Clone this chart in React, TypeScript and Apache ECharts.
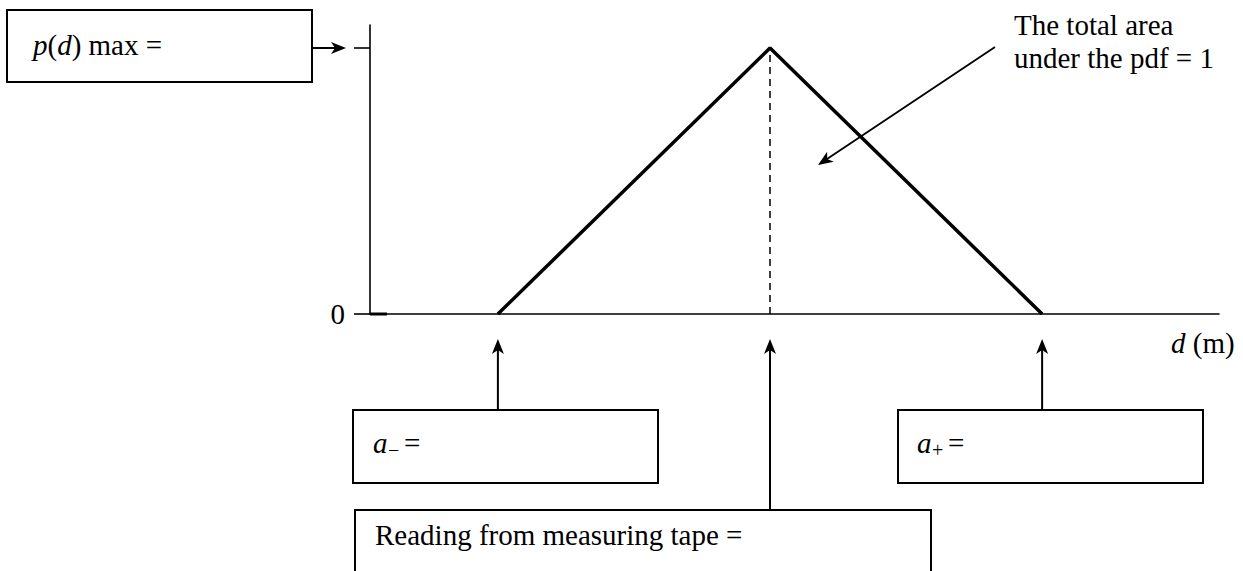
import React, { useEffect, useRef } from "react";
import * as echarts from "echarts";

// Data: triangular pdf
const dValues = [5, 10, 15]; // a-, reading, a+
const pdfValues = [0, 0.2, 0];
const X_MIN = 2.65;
const X_MAX = 18.25;
const Y_MAX = 0.2173;
const Y_TICKS = [0, 0.2];
const Y_LABELS = ["0", ""];

const FONT = "'Liberation Serif', 'Times New Roman', serif";
const FS = 29;

function arrowHead(tx: number, ty: number, fx: number, fy: number, len = 15, half = 6, notch = 4) {
  const dx = tx - fx, dy = ty - fy;
  const L = Math.sqrt(dx * dx + dy * dy) || 1;
  const ux = dx / L, uy = dy / L;
  const px = -uy, py = ux;
  const bx = tx - ux * len, by = ty - uy * len;
  return [
    [tx, ty],
    [bx + px * half, by + py * half],
    [tx - ux * (len - notch), ty - uy * (len - notch)],
    [bx - px * half, by - py * half],
  ];
}

export default function App() {
  const ref = useRef<HTMLDivElement>(null);
  useEffect(() => {
    document.body.style.margin = "0";
    const chart = echarts.init(ref.current!, null, { renderer: "svg" });
    chart.setOption({
      animation: false,
      backgroundColor: "#ffffff",
      grid: { left: 370, right: 24, top: 25, bottom: 257 },
      xAxis: {
        type: "value",
        min: X_MIN,
        max: X_MAX,
        axisLine: { show: true, lineStyle: { color: "#000", width: 1.6 } },
        axisTick: { show: false },
        axisLabel: { show: false },
        splitLine: { show: false },
      },
      yAxis: {
        type: "value",
        min: 0,
        max: Y_MAX,
        axisLine: { show: true, lineStyle: { color: "#000", width: 1.6 } },
        axisTick: {
          show: true,
          length: 16,
          customValues: Y_TICKS,
          lineStyle: { color: "#000", width: 1.6 },
        },
        axisLabel: {
          show: true,
          margin: 25,
          color: "#000",
          fontFamily: FONT,
          fontSize: FS,
          customValues: [Y_TICKS[0]],
          formatter: (v: number) => Y_LABELS[Y_TICKS.indexOf(v)] ?? "",
        },
        splitLine: { show: false },
      },
      series: [
        {
          type: "line",
          data: dValues.map((d, i) => [d, pdfValues[i]]),
          symbol: "none",
          lineStyle: { color: "#000", width: 3.5 },
          markLine: {
            silent: true,
            symbol: "none",
            label: { show: false },
            lineStyle: { color: "#000", width: 1.5, type: [7, 5] },
            data: [[{ coord: [dValues[1], 0] }, { coord: [dValues[1], pdfValues[1]] }]],
          },
        },
      ],
    });

    const px = (x: number, y: number) => chart.convertToPixel({ gridIndex: 0 }, [x, y]) as number[];
    const [xm, y0] = px(dValues[0], 0);
    const [xc, ymax] = px(dValues[1], pdfValues[1]);
    const [xp] = px(dValues[2], 0);
    const [xAxis0] = px(X_MIN, 0);

    const lineEl = (x1: number, y1: number, x2: number, y2: number, w = 2) => ({
      type: "line",
      shape: { x1, y1, x2, y2 },
      style: { stroke: "#000", lineWidth: w },
    });
    const headEl = (tx: number, ty: number, fx: number, fy: number) => ({
      type: "polygon",
      shape: { points: arrowHead(tx, ty, fx, fy) },
      style: { fill: "#000" },
    });
    const rectEl = (x: number, y: number, w: number, h: number) => ({
      type: "rect",
      shape: { x, y, width: w, height: h },
      style: { fill: "none", stroke: "#000", lineWidth: 2 },
    });
    const textEl = (x: number, y: number, text: string, extra: any = {}) => ({
      type: "text",
      x,
      y,
      style: {
        text,
        fill: "#000",
        fontFamily: FONT,
        fontSize: FS,
        verticalAlign: "middle",
        align: "left",
        ...extra,
      },
    });
    const rich = { i: { fontStyle: "italic", fontFamily: FONT, fontSize: FS, fill: "#000" } };

    const arrowTipY = y0 + 25;
    const elements: any[] = [
      // thicker base segment at origin
      lineEl(xAxis0, y0, xAxis0 + 17, y0, 3),
      // p(d) max box + arrow
      rectEl(7, 10, 305, 72),
      textEl(33, 45, "{i|p}({i|d}) max =", { rich }),
      lineEl(312, ymax, 340, ymax),
      headEl(346, ymax, 312, ymax),
      // annotation
      textEl(1014, 25, "The total area"),
      textEl(1014, 58, "under the pdf = 1"),
      lineEl(995, 47, 824, 161, 1.8),
      headEl(818, 165, 995, 47),
      // d (m)
      textEl(1171, 343, "{i|d} (m)", { rich }),
      // a- box
      rectEl(353, 410, 305, 73),
      lineEl(xm, 410, xm, arrowTipY + 8),
      headEl(xm, arrowTipY, xm, 410),
      textEl(373, 443, "a", { fontStyle: "italic" }),
      textEl(388, 450, "\u2212", { fontSize: 20 }),
      textEl(404, 443, "="),
      // a+ box
      rectEl(898, 410, 305, 73),
      lineEl(xp, 410, xp, arrowTipY + 8),
      headEl(xp, arrowTipY, xp, 410),
      textEl(917, 443, "a", { fontStyle: "italic" }),
      textEl(932, 450, "+", { fontSize: 20 }),
      textEl(948, 443, "="),
      // reading box
      rectEl(355, 510, 576, 80),
      lineEl(xc, 510, xc, arrowTipY + 8),
      headEl(xc, arrowTipY, xc, 510),
      textEl(375, 535, "Reading from measuring tape ="),
    ];
    chart.setOption({ graphic: { elements } });
    return () => chart.dispose();
  }, []);
  return <div ref={ref} style={{ width: 1243, height: 571 }} />;
}
